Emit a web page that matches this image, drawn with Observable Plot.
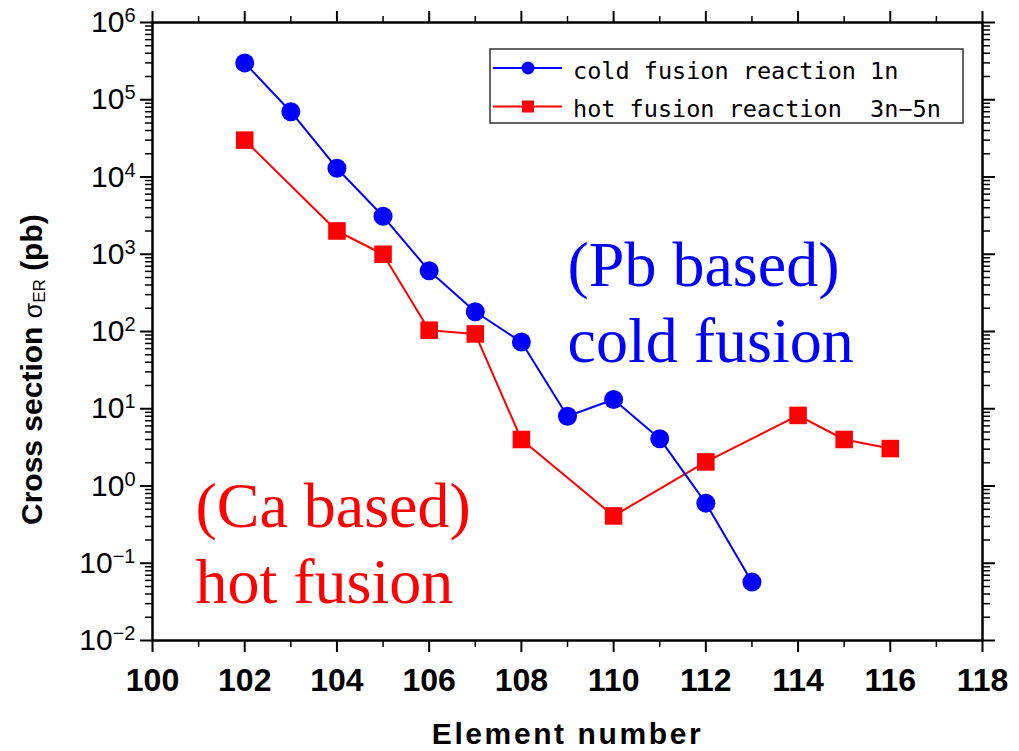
<!DOCTYPE html>
<html><head><meta charset="utf-8">
<script src="https://cdn.jsdelivr.net/npm/d3@7"></script>
<script src="https://cdn.jsdelivr.net/npm/@observablehq/plot@0.6"></script>
<style>
body{margin:0;background:#fff}
#chart{position:relative;width:1019px;height:751px}
g[aria-label="x-axis label"] text{font-size:30px;font-weight:bold;letter-spacing:2.6px}
</style></head><body><div id="chart"></div>
<script>
// Data
const elementsCold = [102, 103, 104, 105, 106, 107, 108, 109, 110, 111, 112, 113];
const sigmaCold = [3.0e5, 7.0e4, 1.3e4, 3.1e3, 610, 180, 73, 8.0, 13.2, 4.1, 0.60, 0.057];
const elementsHot = [102, 104, 105, 106, 107, 108, 110, 112, 114, 115, 116];
const sigmaHot = [3.0e4, 2.0e3, 1.0e3, 104, 93, 4.0, 0.41, 2.05, 8.2, 4.0, 3.05];
const seriesNames = ["cold fusion reaction 1n", "hot fusion reaction  3n\u22125n"];
const seriesColors = ["#0000ff", "#ff0000"];

// Axis ticks
const xMajorTicks = [100, 102, 104, 106, 108, 110, 112, 114, 116, 118];
const xMinorTicks = [101, 103, 105, 107, 109, 111, 113, 115, 117];
const yExponents = [-2, -1, 0, 1, 2, 3, 4, 5, 6];
const yMajorTicks = yExponents.map(e => 10 ** e);
const yMinorTicks = [];
for (const e of yExponents.slice(0, -1)) for (const m of [2,3,4,5,6,7,8,9]) yMinorTicks.push(m * 10 ** e);

// Annotations (anchored in data coordinates)
const annotationText = ["(Pb based)\ncold fusion", "(Ca based)\nhot fusion"];
const annotationX = [109.0, 100.93];
const annotationY = [40, 0.0305];

const cold = elementsCold.map((e, i) => ({element: e, sigma: sigmaCold[i]}));
const hot = elementsHot.map((e, i) => ({element: e, sigma: sigmaHot[i]}));
const annotations = annotationText.map((t, i) => ({text: t, x: annotationX[i], y: annotationY[i], color: seriesColors[i]}));

const noText = () => "";
const minorAxis = {tickFormat: noText, label: null, strokeWidth: 1.5, tickSize: 7};
const majorAxis = {label: null, strokeWidth: 2, tickSize: 12};

const chart = Plot.plot({
  width: 1019, height: 751,
  marginLeft: 152, marginRight: 37, marginTop: 22, marginBottom: 111,
  style: {fontFamily: "'Liberation Sans', Arial, sans-serif", background: "#fff", color: "#000"},
  x: {domain: [100, 118]},
  y: {type: "log", domain: [1e-2, 1e6]},
  marks: [
    Plot.axisX({...majorAxis, anchor: "bottom", ticks: xMajorTicks, tickPadding: 16, tickFormat: d => String(d),
      fontSize: 32, fontWeight: "bold", label: "Element number", labelAnchor: "center", labelOffset: 103, labelArrow: "none"}),
    Plot.axisX({...minorAxis, anchor: "bottom", ticks: xMinorTicks}),
    Plot.axisX({...majorAxis, anchor: "top", ticks: xMajorTicks, tickFormat: noText}),
    Plot.axisX({...minorAxis, anchor: "top", ticks: xMinorTicks}),
    Plot.axisY({...majorAxis, anchor: "left", ticks: yMajorTicks, tickPadding: 5, fontSize: 30,
      tickFormat: d => "10^" + Math.round(Math.log10(d))}),
    Plot.axisY({...minorAxis, anchor: "left", ticks: yMinorTicks}),
    Plot.axisY({...majorAxis, anchor: "right", ticks: yMajorTicks, tickFormat: noText}),
    Plot.axisY({...minorAxis, anchor: "right", ticks: yMinorTicks}),
    Plot.frame({stroke: "#000", strokeWidth: 2.5}),
    Plot.text(annotations, {x: "x", y: "y", text: "text", fill: "color", fontSize: 64,
      fontFamily: "'Liberation Serif', 'Times New Roman', serif", textAnchor: "start", lineAnchor: "bottom", lineHeight: 1.19}),
    Plot.line(hot, {x: "element", y: "sigma", stroke: seriesColors[1], strokeWidth: 2}),
    Plot.dot(hot, {x: "element", y: "sigma", symbol: "square", r: 9.9, fill: seriesColors[1]}),
    Plot.line(cold, {x: "element", y: "sigma", stroke: seriesColors[0], strokeWidth: 2}),
    Plot.dot(cold, {x: "element", y: "sigma", symbol: "circle", r: 9.5, fill: seriesColors[0]})
  ]
});
document.getElementById("chart").appendChild(chart);

const svg = d3.select(chart);
// Superscript exponents on y tick labels
svg.selectAll('g[aria-label="y-axis tick label"] text').each(function() {
  const m = this.textContent.match(/^10\^(-?\d+)$/);
  if (!m) return;
  const s = d3.select(this);
  s.text(null);
  s.append("tspan").text("10");
  s.append("tspan").attr("dy", -10).attr("font-size", 20).text(m[1].replace("-", "\u2212"));
});

// Y axis label with sigma and subscript
const yl = svg.append("text")
  .attr("transform", "translate(42,525) rotate(-90)").attr("text-anchor", "start")
  .attr("font-size", 30).attr("font-weight", "bold").attr("fill", "#000");
yl.append("tspan").text("Cross section ");
yl.append("tspan").attr("font-weight", "normal").attr("font-size", 25).text("\u03c3");
yl.append("tspan").attr("font-weight", "normal").attr("font-size", 17).attr("dy", 3).text("ER");
yl.append("tspan").attr("dy", -3).text(" (pb)");

// Legend
const lg = svg.append("g");
lg.append("rect").attr("x", 490).attr("y", 49).attr("width", 473).attr("height", 74)
  .attr("fill", "#fff").attr("stroke", "#333").attr("stroke-width", 1.5);
seriesNames.forEach((name, i) => {
  const cy = 68 + i * 38.5;
  lg.append("line").attr("x1", 493).attr("x2", 562).attr("y1", cy).attr("y2", cy)
    .attr("stroke", seriesColors[i]).attr("stroke-width", 1.8);
  if (i === 0) lg.append("circle").attr("cx", 528).attr("cy", cy).attr("r", 6.5).attr("fill", seriesColors[i]);
  else lg.append("rect").attr("x", 522).attr("y", cy - 6).attr("width", 12).attr("height", 12).attr("fill", seriesColors[i]);
  lg.append("text").attr("x", 573).attr("y", cy + 10.5).attr("text-anchor", "start")
    .attr("font-family", "'DejaVu Sans Mono', monospace").attr("font-size", 23.5)
    .style("white-space", "pre").attr("fill", "#000").text(name);
});
</script>
</body></html>
